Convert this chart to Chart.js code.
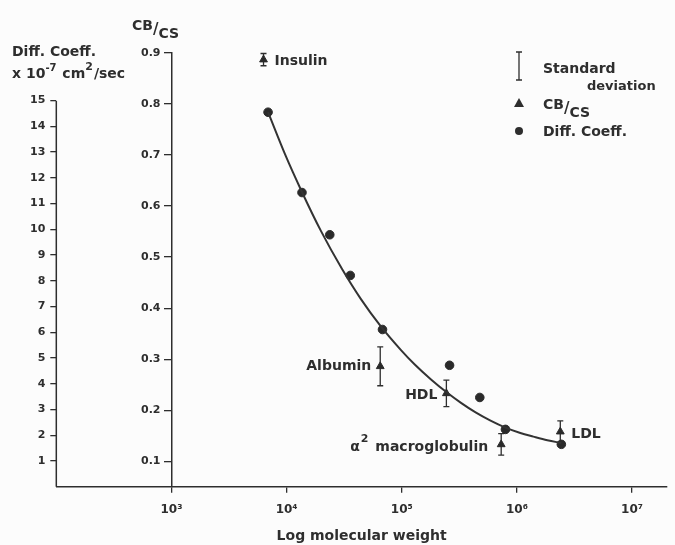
<!DOCTYPE html>
<html>
<head>
<meta charset="utf-8">
<script src="https://cdn.jsdelivr.net/npm/chart.js@4"></script>
<style>
  html, body { margin: 0; padding: 0; background: #fcfcfc; }
  canvas { display: block; }
</style>
</head>
<body>
<canvas id="chart" width="675" height="545"></canvas>
<script>
// diffusion coefficients (x 10^-7 cm2/sec) against molecular weight
const diffWeights = [6900, 13600, 23700, 35700, 68000, 260000, 476000, 795000, 2430000];
const diffValues = [14.55, 11.43, 9.79, 8.21, 6.11, 4.72, 3.47, 2.23, 1.65];

// hand fitted curve through the diffusion points
const curveWeights = [6900, 9700, 13400, 19900, 30300, 44200, 65800, 98000, 129600, 178400,
  245300, 324400, 437700, 590000, 795000, 1071000, 1389000, 1836000, 2430000];
const curveValues = [14.55, 12.91, 11.51, 9.93, 8.46, 7.29, 6.23, 5.32, 4.75, 4.18,
  3.67, 3.27, 2.89, 2.57, 2.30, 2.09, 1.95, 1.81, 1.70];

// CB/CS ratio with standard deviation
const proteins = ['Insulin', 'Albumin', 'HDL', 'α2 macroglobulin', 'LDL'];
const cbcsWeights = [6300, 65000, 244000, 730000, 2380000];
const cbcsValues = [0.887, 0.286, 0.233, 0.133, 0.158];
const cbcsSd = [0.012, 0.038, 0.026, 0.021, 0.021];

const decadeTicks = [1e3, 1e4, 1e5, 1e6, 1e7];
const diffTicks = [1, 2, 3, 4, 5, 6, 7, 8, 9, 10, 11, 12, 13, 14, 15];
const cbcsTicks = [0.1, 0.2, 0.3, 0.4, 0.5, 0.6, 0.7, 0.8, 0.9];

const INK = '#2e2e2e';
const FONT = 'DejaVu Sans';
const sup = { 3: '³', 4: '⁴', 5: '⁵', 6: '⁶', 7: '⁷' };

// draws a run of text pieces, some raised or lowered
function drawParts(ctx, parts, x, y) {
  ctx.textAlign = 'left';
  ctx.textBaseline = 'alphabetic';
  parts.forEach(p => {
    ctx.font = 'bold ' + (p.size || 14) + 'px "' + FONT + '"';
    ctx.fillText(p.t, x + (p.dx || 0), y + (p.dy || 0));
    x += ctx.measureText(p.t).width + (p.dx || 0);
  });
}

const overlay = {
  id: 'overlay',
  beforeDatasetsDraw(chart) {
    const { ctx, scales: { x, yC } } = chart;
    ctx.save();
    ctx.strokeStyle = INK;
    ctx.lineWidth = 1.3;
    cbcsWeights.forEach((w, i) => {
      const px = x.getPixelForValue(w);
      const top = yC.getPixelForValue(cbcsValues[i] + cbcsSd[i]);
      const bot = yC.getPixelForValue(cbcsValues[i] - cbcsSd[i]);
      ctx.beginPath();
      ctx.moveTo(px, top); ctx.lineTo(px, bot);
      ctx.moveTo(px - 3, top); ctx.lineTo(px + 3, top);
      ctx.moveTo(px - 3, bot); ctx.lineTo(px + 3, bot);
      ctx.stroke();
    });
    ctx.restore();
  },
  afterDraw(chart) {
    const { ctx, chartArea, scales: { x, yD, yC } } = chart;
    ctx.save();
    ctx.fillStyle = INK;
    ctx.strokeStyle = INK;

    // diff. coeff. axis line only runs up to 15
    ctx.lineWidth = 1.5;
    ctx.beginPath();
    ctx.moveTo(chartArea.left, yD.getPixelForValue(15));
    ctx.lineTo(chartArea.left, chartArea.bottom);
    ctx.stroke();

    // CB/CS tick labels
    const axisX = x.getPixelForValue(1000);
    ctx.font = 'bold 11px "' + FONT + '"';
    ctx.textAlign = 'right';
    ctx.textBaseline = 'middle';
    cbcsTicks.forEach(v => {
      ctx.fillText(v.toFixed(1), axisX - 11, yC.getPixelForValue(v));
    });

    // axis titles
    drawParts(ctx, [{ t: 'Diff. Coeff.' }], 12, 56);
    drawParts(ctx, [{ t: 'x 10' }, { t: '-7', size: 10, dy: -7 }, { t: ' cm', dx: 1 },
      { t: '2', size: 11, dy: -8 }, { t: '/sec', dx: 1 }], 12, 78);
    drawParts(ctx, [{ t: 'CB' }, { t: '/', size: 15, dy: 4 }, { t: 'CS', dy: 8 }], 132, 30);

    // legend
    ctx.lineWidth = 1.3;
    ctx.beginPath();
    ctx.moveTo(519, 52); ctx.lineTo(519, 80);
    ctx.moveTo(516, 52); ctx.lineTo(522, 52);
    ctx.moveTo(516, 80); ctx.lineTo(522, 80);
    ctx.stroke();
    drawParts(ctx, [{ t: 'Standard' }], 543, 73);
    drawParts(ctx, [{ t: 'deviation', size: 13 }], 587, 90);
    ctx.beginPath();
    ctx.moveTo(519, 98); ctx.lineTo(524, 107); ctx.lineTo(514, 107);
    ctx.closePath(); ctx.fill();
    drawParts(ctx, [{ t: 'CB' }, { t: '/', size: 15, dy: 4 }, { t: 'CS', dy: 8 }], 543, 109);
    ctx.beginPath();
    ctx.arc(519, 131, 4, 0, Math.PI * 2);
    ctx.fill();
    drawParts(ctx, [{ t: 'Diff. Coeff.' }], 543, 136);

    // protein labels next to their CB/CS points
    const at = i => ({ px: x.getPixelForValue(cbcsWeights[i]), py: yC.getPixelForValue(cbcsValues[i]) });
    let p = at(0);
    drawParts(ctx, [{ t: proteins[0] }], p.px + 11, p.py + 5);
    p = at(1);
    ctx.font = 'bold 14px "' + FONT + '"';
    drawParts(ctx, [{ t: proteins[1] }], p.px - 9 - ctx.measureText(proteins[1]).width, p.py + 4);
    p = at(2);
    drawParts(ctx, [{ t: proteins[2] }], p.px - 9 - ctx.measureText(proteins[2]).width, p.py + 6);
    p = at(3);
    drawParts(ctx, [{ t: 'α' }, { t: '2', size: 11, dy: -9, dx: 1 }, { t: ' macroglobulin', dx: 2 }], p.px - 151, p.py + 7);
    p = at(4);
    drawParts(ctx, [{ t: proteins[4] }], p.px + 11, p.py + 6);

    ctx.restore();
  }
};

const axisFont = { family: FONT, size: 11, weight: 'bold' };

new Chart(document.getElementById('chart'), {
  type: 'scatter',
  data: {
    datasets: [
      {
        type: 'line',
        label: 'fit',
        data: curveWeights.map((w, i) => ({ x: w, y: curveValues[i] })),
        yAxisID: 'yD',
        borderColor: '#333',
        borderWidth: 2,
        pointRadius: 0,
        cubicInterpolationMode: 'monotone',
        fill: false
      },
      {
        label: 'Diff. Coeff.',
        data: diffWeights.map((w, i) => ({ x: w, y: diffValues[i] })),
        yAxisID: 'yD',
        pointStyle: 'circle',
        pointRadius: 4.3,
        backgroundColor: '#2a2a2a',
        borderColor: '#2a2a2a'
      },
      {
        label: 'CB/CS',
        data: cbcsWeights.map((w, i) => ({ x: w, y: cbcsValues[i] })),
        yAxisID: 'yC',
        pointStyle: 'triangle',
        pointRadius: 4.5,
        backgroundColor: '#2a2a2a',
        borderColor: '#2a2a2a'
      }
    ]
  },
  options: {
    responsive: false,
    animation: false,
    layout: { padding: { top: 53, right: 8, left: 25, bottom: 0 } },
    plugins: { legend: { display: false }, tooltip: { enabled: false } },
    scales: {
      x: {
        type: 'logarithmic',
        min: 100,
        max: 2.01e7,
        afterBuildTicks: s => { s.ticks = decadeTicks.map(v => ({ value: v })); },
        ticks: {
          autoSkip: false, maxRotation: 0, padding: 10, color: INK,
          font: { family: FONT, size: 12, weight: 'bold' },
          callback: v => '10' + sup[Math.round(Math.log10(v))]
        },
        grid: { drawOnChartArea: false, tickLength: 6, color: INK, lineWidth: 1.3 },
        border: { color: INK, width: 1.5 },
        title: {
          display: true, text: 'Log molecular weight', color: INK,
          font: { family: FONT, size: 14, weight: 'bold' }, padding: { top: 1, bottom: 0 }
        }
      },
      yD: {
        position: 'left',
        min: 0,
        max: 16.85,
        afterBuildTicks: s => { s.ticks = diffTicks.map(v => ({ value: v })); },
        ticks: { padding: 5, color: INK, font: axisFont },
        grid: { drawOnChartArea: false, tickLength: 6, color: INK, lineWidth: 1.3 },
        border: { display: false }
      },
      yC: {
        position: { x: 1000 },
        min: 0.05,
        max: 0.9,
        afterBuildTicks: s => { s.ticks = cbcsTicks.map(v => ({ value: v })); },
        ticks: { display: false },
        grid: { drawOnChartArea: false, tickLength: 7, color: INK, lineWidth: 1.3 },
        border: { color: INK, width: 1.5 }
      }
    }
  },
  plugins: [overlay]
});
</script>
</body>
</html>
